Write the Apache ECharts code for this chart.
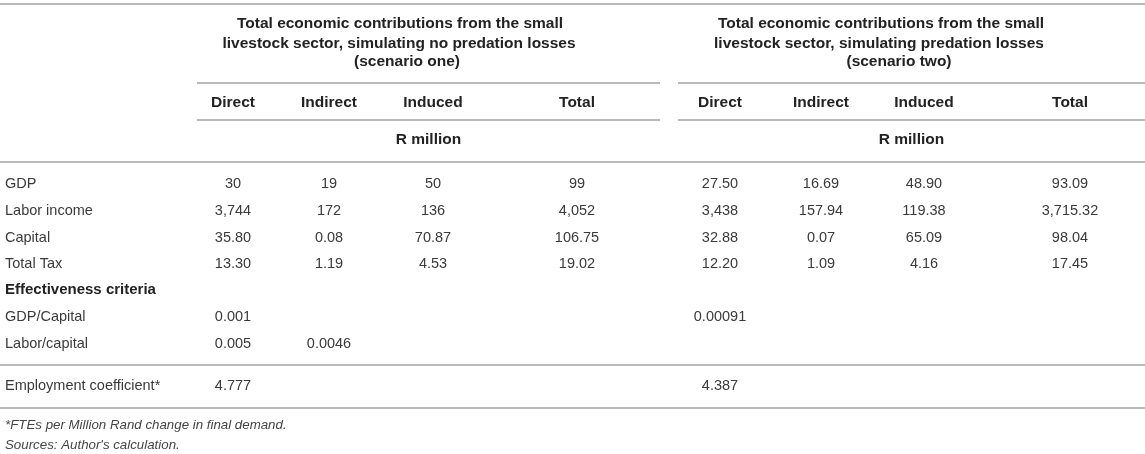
<!DOCTYPE html>
<html lang="en">

<head>
    <meta charset="UTF-8">
    <title>Small livestock sector contributions</title>
    <script src="https://cdn.jsdelivr.net/npm/echarts@6/dist/echarts.min.js"></script>
    <style>
        html, body { margin: 0; padding: 0; background: #fff; }
        #main { width: 1145px; height: 454px; }
    </style>
</head>

<body>
    <div id="main"></div>
    <script>
        // table data
        const groupTitles = [
            ['Total economic contributions from the small', 'livestock sector, simulating no predation losses', '(scenario one)'],
            ['Total economic contributions from the small', 'livestock sector, simulating predation losses', '(scenario two)']
        ];
        const columnNames = ['Direct', 'Indirect', 'Induced', 'Total'];
        const unitLabel = 'R million';

        const rowLabels = ['GDP', 'Labor income', 'Capital', 'Total Tax'];
        const oneDirect = ['30', '3,744', '35.80', '13.30'];
        const oneIndirect = ['19', '172', '0.08', '1.19'];
        const oneInduced = ['50', '136', '70.87', '4.53'];
        const oneTotal = ['99', '4,052', '106.75', '19.02'];
        const twoDirect = ['27.50', '3,438', '32.88', '12.20'];
        const twoIndirect = ['16.69', '157.94', '0.07', '1.09'];
        const twoInduced = ['48.90', '119.38', '65.09', '4.16'];
        const twoTotal = ['93.09', '3,715.32', '98.04', '17.45'];

        const sectionLabel = 'Effectiveness criteria';
        const ratioLabels = ['GDP/Capital', 'Labor/capital'];
        const oneRatioDirect = ['0.001', '0.005'];
        const oneRatioIndirect = ['', '0.0046'];
        const twoRatioDirect = ['0.00091', ''];

        const employmentLabel = 'Employment coefficient*';
        const employment = ['4.777', '4.387'];

        const footnotes = ['*FTEs per Million Rand change in final demand.', 'Sources: Author\'s calculation.'];

        // layout
        const W = 1145;
        const FONT = '"Liberation Sans", Arial, Helvetica, sans-serif';
        const colX = [233, 329, 433, 577, 720, 821, 924, 1070];
        const groupSpan = [[197, 660], [678, W]];
        const titleX = [[400, 399, 407], [881, 879, 899]];
        const titleY = [24, 43.5, 62];
        const rowY = [184, 211, 238, 264];
        const sectionY = 290;
        const ratioY = [317, 344];
        const employY = 386;
        const footY = [425, 445];
        const LINE = '#b9b9b9';
        const BOLD = 15.5;

        const els = [];

        function txt(x, y, text, opt) {
            opt = opt || {};
            if (text === '') return;
            els.push({
                type: 'text',
                x: x,
                y: y,
                silent: true,
                style: {
                    text: text,
                    fill: opt.color || '#3a3a3a',
                    font: (opt.italic ? 'italic ' : '') + (opt.bold ? 'bold ' : '') + (opt.size || 14.5) + 'px ' + FONT,
                    align: opt.align || 'center',
                    textAlign: opt.align || 'center',
                    verticalAlign: 'middle',
                    textVerticalAlign: 'middle'
                }
            });
        }

        function hline(x1, x2, y) {
            els.push({
                type: 'line',
                silent: true,
                shape: { x1: x1, y1: y, x2: x2, y2: y },
                style: { stroke: LINE, lineWidth: 2 }
            });
        }

        // rules
        hline(0, W, 4);
        groupSpan.forEach(function (s) {
            hline(s[0], s[1], 83);
            hline(s[0], s[1], 120);
        });
        hline(0, W, 162);
        hline(0, W, 365);
        hline(0, W, 408);

        // header
        groupTitles.forEach(function (lines, g) {
            lines.forEach(function (t, i) {
                txt(titleX[g][i], titleY[i], t, { bold: true, color: '#222', size: BOLD });
            });
            columnNames.forEach(function (c, i) {
                txt(colX[g * 4 + i], 103, c, { bold: true, color: '#222', size: BOLD });
            });
            txt((groupSpan[g][0] + groupSpan[g][1]) / 2, 140, unitLabel, { bold: true, color: '#222', size: BOLD });
        });

        // body
        const valueCols = [oneDirect, oneIndirect, oneInduced, oneTotal, twoDirect, twoIndirect, twoInduced, twoTotal];
        rowLabels.forEach(function (lab, r) {
            txt(5, rowY[r], lab, { align: 'left' });
            valueCols.forEach(function (col, c) {
                txt(colX[c], rowY[r], col[r]);
            });
        });

        txt(5, sectionY, sectionLabel, { align: 'left', bold: true, color: '#222', size: 15 });
        ratioLabels.forEach(function (lab, r) {
            txt(5, ratioY[r], lab, { align: 'left' });
            txt(colX[0], ratioY[r], oneRatioDirect[r]);
            txt(colX[1], ratioY[r], oneRatioIndirect[r]);
            txt(colX[4], ratioY[r], twoRatioDirect[r]);
        });

        txt(5, employY, employmentLabel, { align: 'left' });
        txt(colX[0], employY, employment[0]);
        txt(colX[4], employY, employment[1]);

        footnotes.forEach(function (f, i) {
            txt(5, footY[i], f, { align: 'left', italic: true, size: 13.3, color: '#444' });
        });

        var chartDom = document.getElementById('main');
        var myChart = echarts.init(chartDom);
        myChart.setOption({
            animation: false,
            backgroundColor: '#fff',
            graphic: { elements: els }
        });
    </script>
</body>

</html>
